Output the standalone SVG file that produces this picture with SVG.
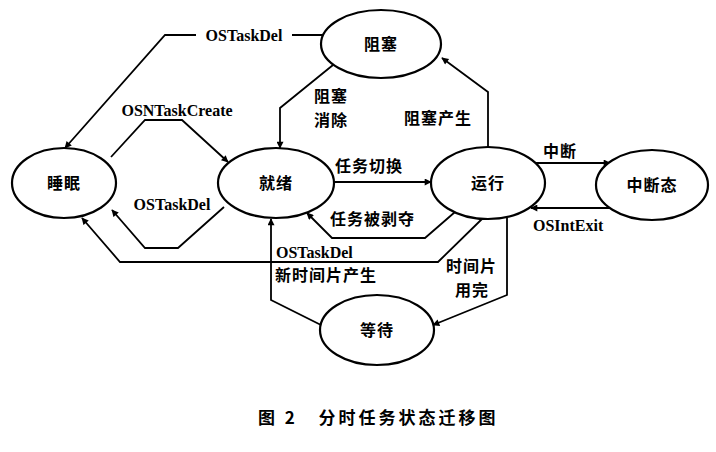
<svg xmlns="http://www.w3.org/2000/svg" width="716" height="452" viewBox="0 0 716 452">
<style>
.n{fill:#fff;stroke:#000;stroke-width:2.2}
.c{fill:none;stroke:#000;stroke-width:1.8}
text{font-family:"Liberation Serif","Noto Sans CJK SC",serif;font-weight:bold;font-size:16px;fill:#000}
.z{font-family:"Noto Sans CJK SC",sans-serif;font-size:16px;letter-spacing:1px}
.cap{font-family:"Noto Sans CJK SC",sans-serif;font-size:17px;letter-spacing:3px}
</style>
<defs><marker id="a" viewBox="0 0 10 10" refX="9" refY="5" markerWidth="9" markerHeight="7" orient="auto" markerUnits="userSpaceOnUse"><path d="M0,0L10,5L0,10z" fill="#000"/></marker></defs>
<rect width="716" height="452" fill="#fff"/>
<g id="connectors" marker-end="url(#a)">
<path class="c" d="M325,35H165L65,148"/>
<path class="c" d="M111,157L145,120H182L228,162"/>
<path class="c" d="M224,207L178,248H145L112,210"/>
<path class="c" d="M333,65L280,108V148"/>
<path class="c" d="M488,147V92L442,58"/>
<path class="c" d="M334,182H431"/>
<path class="c" d="M455,212L425,238H332L307,213"/>
<path class="c" d="M535,163H610"/>
<path class="c" d="M615,208H531"/>
<path class="c" d="M483,218L438,262H120L82,218"/>
<path class="c" d="M507,218V295L433,325"/>
<path class="c" d="M321,325L271,300V219"/>
</g>
<rect x="196" y="26" width="96" height="18" fill="#fff"/>
<text x="244" y="41" text-anchor="middle">OSTaskDel</text>
<text x="177" y="116" text-anchor="middle">OSNTaskCreate</text>
<text x="172" y="210" text-anchor="middle">OSTaskDel</text>
<text class="z" x="314" y="102">阻塞</text>
<text class="z" x="314" y="126">消除</text>
<text class="z" x="404" y="124">阻塞产生</text>
<text class="z" x="335" y="172">任务切换</text>
<text class="z" x="330" y="225">任务被剥夺</text>
<text class="z" x="543" y="157">中断</text>
<text x="533" y="231">OSIntExit</text>
<text x="276" y="258">OSTaskDel</text>
<text class="z" x="275" y="281">新时间片产生</text>
<text class="z" x="446" y="272">时间片</text>
<text class="z" x="455" y="296">用完</text>
<g id="sleep"><ellipse class="n" cx="64" cy="183" rx="52" ry="35"/><text class="z" x="64" y="189" text-anchor="middle">睡眠</text></g>
<g id="ready"><ellipse class="n" cx="276" cy="183" rx="58" ry="35"/><text class="z" x="276" y="189" text-anchor="middle">就绪</text></g>
<g id="blocked"><ellipse class="n" cx="381" cy="44" rx="60" ry="34"/><text class="z" x="381" y="50" text-anchor="middle">阻塞</text></g>
<g id="running"><ellipse class="n" cx="488" cy="183" rx="57" ry="36"/><text class="z" x="488" y="189" text-anchor="middle">运行</text></g>
<g id="interrupt"><ellipse class="n" cx="652" cy="185" rx="56" ry="35"/><text class="z" x="652" y="191" text-anchor="middle">中断态</text></g>
<g id="wait"><ellipse class="n" cx="377" cy="330" rx="57" ry="35"/><text class="z" x="377" y="336" text-anchor="middle">等待</text></g>
<text class="cap" x="258" y="424" xml:space="preserve">图 2   分时任务状态迁移图</text>
</svg>
